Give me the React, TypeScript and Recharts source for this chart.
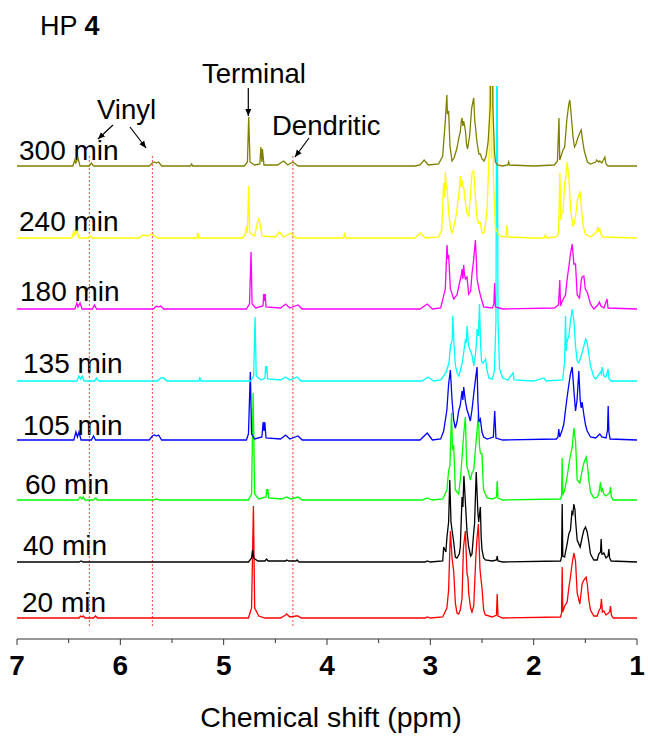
import React from "react";
import { LineChart, Line, XAxis, YAxis, ReferenceLine } from "recharts";

type Pt = [number, number];

// spectra: [ppm, intensity above own baseline]
const s20: Pt[] = [[7,0],[6.40,0],[6.385,2],[6.37,1],[6.36,2],[6.34,0],[6.26,0],[6.24,2],[6.22,0],[4.76,0],[4.73,10],[4.712,112],[4.70,10],[4.66,2],[4.60,0],[4.45,0],[4.40,3],[4.39,4],[4.36,1],[4.30,2],[4.28,2],[4.25,0],[3.05,0],[3.03,1],[3.0,0],[2.88,1],[2.84,10],[2.823,28],[2.806,87],[2.79,60],[2.774,47],[2.758,15],[2.742,5],[2.726,4],[2.71,8],[2.693,20],[2.68,70],[2.661,87],[2.645,44],[2.635,40],[2.629,25],[2.61,10],[2.597,6],[2.58,12],[2.56,60],[2.548,80],[2.535,94],[2.52,50],[2.516,45],[2.50,30],[2.484,8],[2.468,3],[2.40,1],[2.36,3],[2.353,24],[2.345,2],[2.30,0],[1.74,1],[1.73,5],[1.724,51],[1.718,6],[1.70,12],[1.676,16],[1.66,30],[1.644,41],[1.627,55],[1.611,65],[1.595,57],[1.579,25],[1.553,14],[1.531,34],[1.514,38],[1.492,41],[1.48,33],[1.466,18],[1.45,8],[1.418,2],[1.385,2],[1.37,7],[1.353,10],[1.344,19],[1.335,6],[1.321,7],[1.30,3],[1.265,6],[1.256,12],[1.248,3],[1.23,0],[1.0,0]];
const s40: Pt[] = [[7,0],[6.40,0],[6.38,1],[6.36,0],[4.76,0],[4.73,4],[4.72,12],[4.71,4],[4.67,1],[4.60,1],[4.585,3],[4.57,1],[4.40,1],[4.39,2],[4.37,1],[4.30,1],[4.29,2],[4.27,0],[3.05,0],[3.03,1],[3.0,0],[2.88,1],[2.871,15],[2.85,10],[2.839,25],[2.823,40],[2.812,82],[2.80,40],[2.79,32],[2.774,20],[2.758,5],[2.742,4],[2.72,8],[2.71,15],[2.693,65],[2.685,55],[2.675,86],[2.661,60],[2.645,30],[2.629,15],[2.61,6],[2.597,8],[2.58,30],[2.572,38],[2.556,90],[2.548,70],[2.54,50],[2.532,40],[2.516,55],[2.508,25],[2.50,12],[2.484,4],[2.468,2],[2.40,1],[2.36,2],[2.353,6],[2.345,1],[2.30,0],[1.74,1],[1.73,5],[1.724,58],[1.718,6],[1.70,5],[1.692,10],[1.676,18],[1.66,28],[1.644,32],[1.63,50],[1.621,48],[1.611,58],[1.60,52],[1.595,42],[1.579,22],[1.55,15],[1.53,25],[1.514,32],[1.498,35],[1.482,30],[1.466,20],[1.45,8],[1.418,2],[1.385,2],[1.37,8],[1.353,10],[1.347,23],[1.34,8],[1.33,8],[1.321,9],[1.30,4],[1.28,6],[1.272,13],[1.265,4],[1.25,1],[1.0,0]];
const s60: Pt[] = [[7,0],[6.41,0],[6.39,3],[6.37,1],[6.36,3],[6.34,0],[6.26,0],[6.24,2],[6.22,0],[5.68,0],[5.65,1],[5.62,0],[4.76,0],[4.73,6],[4.715,107],[4.70,6],[4.66,1],[4.59,3],[4.585,11],[4.578,6],[4.572,11],[4.565,2],[4.44,1],[4.39,3],[4.35,1],[4.28,3],[4.24,0],[3.08,0],[3.03,2],[2.98,0],[2.88,1],[2.84,10],[2.823,29],[2.81,35],[2.795,87],[2.785,50],[2.774,55],[2.758,10],[2.726,6],[2.71,20],[2.693,43],[2.685,55],[2.677,66],[2.661,83],[2.65,40],[2.645,33],[2.629,27],[2.613,20],[2.597,27],[2.58,30],[2.564,50],[2.548,69],[2.536,86],[2.525,55],[2.516,47],[2.50,46],[2.49,20],[2.484,10],[2.45,2],[2.40,1],[2.36,3],[2.353,19],[2.345,2],[2.30,0],[1.74,1],[1.73,4],[1.724,42],[1.718,5],[1.70,10],[1.676,23],[1.66,35],[1.644,45],[1.627,53],[1.611,72],[1.60,62],[1.595,60],[1.579,20],[1.553,17],[1.53,30],[1.514,37],[1.492,43],[1.48,35],[1.466,20],[1.45,8],[1.418,2],[1.385,3],[1.37,6],[1.353,18],[1.345,8],[1.337,12],[1.321,6],[1.30,4],[1.265,7],[1.256,13],[1.248,3],[1.23,0],[1.0,0]];
const s105: Pt[] = [[7,0],[6.45,0],[6.43,8],[6.415,3],[6.40,8],[6.38,0],[6.28,0],[6.26,4],[6.24,0],[5.72,0],[5.69,4],[5.67,5],[5.65,4],[5.63,5],[5.60,0],[4.78,0],[4.76,6],[4.742,68],[4.73,6],[4.70,1],[4.63,3],[4.618,18],[4.61,9],[4.602,18],[4.59,2],[4.45,1],[4.40,5],[4.36,1],[4.28,4],[4.24,0],[3.10,0],[3.03,7],[2.98,0],[2.90,1],[2.871,9],[2.84,30],[2.823,56],[2.806,70],[2.79,40],[2.774,20],[2.758,12],[2.742,18],[2.726,29],[2.71,35],[2.693,49],[2.685,40],[2.677,53],[2.661,39],[2.645,30],[2.629,25],[2.613,19],[2.597,30],[2.58,46],[2.564,60],[2.548,73],[2.54,40],[2.53,18],[2.516,21],[2.50,8],[2.484,3],[2.45,1],[2.39,3],[2.377,29],[2.365,2],[2.30,0],[1.78,1],[1.765,3],[1.757,11],[1.748,3],[1.724,10],[1.708,16],[1.692,30],[1.676,43],[1.66,55],[1.644,66],[1.627,73],[1.611,50],[1.595,29],[1.58,40],[1.563,69],[1.55,40],[1.54,32],[1.531,38],[1.514,25],[1.498,15],[1.482,9],[1.45,3],[1.40,2],[1.37,5],[1.36,6],[1.34,3],[1.30,2],[1.285,10],[1.279,34],[1.272,8],[1.26,1],[1.0,0]];
const s135: Pt[] = [[7,0],[6.42,0],[6.40,5],[6.385,2],[6.37,5],[6.35,0],[6.25,0],[6.23,3],[6.21,0],[5.64,0],[5.61,3],[5.58,3],[5.55,0],[5.24,0],[5.23,3],[5.22,0],[4.74,0],[4.71,5],[4.696,64],[4.685,5],[4.64,1],[4.60,3],[4.594,15],[4.588,8],[4.582,15],[4.575,2],[4.45,1],[4.40,4],[4.36,1],[4.29,4],[4.25,0],[3.08,0],[3.02,4],[2.97,0],[2.90,1],[2.85,8],[2.82,18],[2.805,35],[2.79,40],[2.782,65],[2.77,35],[2.757,15],[2.74,8],[2.724,5],[2.71,10],[2.692,18],[2.675,30],[2.66,42],[2.652,38],[2.644,55],[2.63,35],[2.611,30],[2.595,25],[2.579,15],[2.56,30],[2.547,52],[2.535,45],[2.524,77],[2.515,40],[2.505,20],[2.49,18],[2.466,22],[2.45,10],[2.434,3],[2.40,2],[2.38,10],[2.365,60],[2.355,400],[2.345,60],[2.33,12],[2.30,3],[2.25,1],[2.20,8],[2.19,1],[2.0,0],[1.90,3],[1.88,0],[1.72,1],[1.70,20],[1.692,65],[1.685,30],[1.676,40],[1.66,45],[1.644,60],[1.627,72],[1.611,60],[1.595,35],[1.579,20],[1.563,18],[1.54,25],[1.514,35],[1.498,42],[1.482,38],[1.45,15],[1.418,4],[1.40,2],[1.37,6],[1.353,9],[1.345,7],[1.337,14],[1.32,5],[1.30,4],[1.28,12],[1.27,2],[1.25,0],[1.0,0]];
const s180: Pt[] = [[7,0],[6.44,0],[6.42,6],[6.41,2],[6.39,6],[6.37,0],[6.27,0],[6.25,4],[6.23,0],[5.68,0],[5.65,3],[5.63,2],[5.61,3],[5.58,0],[4.78,0],[4.75,5],[4.735,57],[4.725,5],[4.69,1],[4.62,3],[4.612,15],[4.605,8],[4.598,15],[4.59,2],[4.45,1],[4.40,5],[4.36,1],[4.28,4],[4.24,0],[3.10,0],[3.03,5],[2.98,0],[2.90,1],[2.855,20],[2.839,64],[2.83,50],[2.823,54],[2.806,20],[2.774,10],[2.742,14],[2.72,25],[2.70,34],[2.693,40],[2.685,30],[2.677,44],[2.67,35],[2.661,30],[2.645,32],[2.629,15],[2.61,18],[2.597,35],[2.58,50],[2.564,69],[2.555,50],[2.548,30],[2.53,20],[2.516,14],[2.50,8],[2.484,2],[2.40,1],[2.385,5],[2.378,26],[2.37,2],[2.30,0],[1.80,1],[1.76,4],[1.747,29],[1.74,3],[1.724,8],[1.692,14],[1.676,30],[1.66,42],[1.644,55],[1.627,65],[1.611,45],[1.595,45],[1.579,14],[1.556,11],[1.54,28],[1.531,32],[1.514,33],[1.50,20],[1.482,17],[1.45,5],[1.418,0],[1.38,4],[1.363,7],[1.35,3],[1.32,1],[1.29,10],[1.28,1],[1.0,0]];
const s240: Pt[] = [[7,0],[6.47,0],[6.45,7],[6.44,3],[6.42,7],[6.40,0],[6.31,0],[6.29,2],[6.27,0],[5.82,0],[5.78,3],[5.73,2],[5.70,4],[5.68,3],[5.64,0],[5.26,0],[5.25,5],[5.24,0],[4.82,0],[4.79,4],[4.78,12],[4.77,5],[4.758,52],[4.748,5],[4.70,2],[4.67,17],[4.66,19],[4.65,16],[4.63,2],[4.50,1],[4.46,6],[4.42,1],[4.35,5],[4.30,0],[3.84,0],[3.83,4],[3.82,0],[3.15,0],[3.095,5],[3.05,0],[2.92,1],[2.89,8],[2.871,55],[2.86,40],[2.855,66],[2.845,48],[2.839,52],[2.823,25],[2.80,8],[2.79,5],[2.774,10],[2.758,18],[2.74,30],[2.72,48],[2.71,62],[2.70,50],[2.693,58],[2.685,52],[2.677,50],[2.661,35],[2.645,25],[2.629,22],[2.61,45],[2.597,65],[2.58,67],[2.57,50],[2.55,20],[2.532,15],[2.516,15],[2.50,5],[2.484,5],[2.468,12],[2.45,30],[2.43,90],[2.418,400],[2.41,80],[2.40,400],[2.39,60],[2.37,10],[2.33,2],[2.27,1],[2.258,13],[2.25,1],[2.0,0],[1.90,0],[1.886,3],[1.87,0],[1.78,1],[1.76,4],[1.746,65],[1.738,18],[1.730,24],[1.716,25],[1.70,55],[1.69,60],[1.676,76],[1.66,62],[1.644,30],[1.62,12],[1.611,13],[1.59,25],[1.579,37],[1.56,44],[1.55,46],[1.54,32],[1.52,12],[1.50,4],[1.45,1],[1.40,5],[1.385,8],[1.379,10],[1.37,7],[1.36,9],[1.35,4],[1.33,1],[1.0,0]];
const s300: Pt[] = [[7,0],[6.46,0],[6.44,6],[6.43,3],[6.41,8],[6.39,0],[6.30,0],[6.28,3],[6.26,0],[5.72,0],[5.69,3],[5.67,4],[5.65,3],[5.63,4],[5.60,0],[5.32,0],[5.31,2],[5.30,0],[4.80,0],[4.77,4],[4.758,49],[4.745,4],[4.70,1],[4.65,2],[4.64,19],[4.63,4],[4.625,17],[4.61,1],[4.48,1],[4.42,5],[4.38,1],[4.33,4],[4.28,0],[3.15,0],[3.10,1],[3.06,6],[3.02,1],[2.92,2],[2.88,10],[2.87,25],[2.855,45],[2.84,71],[2.835,52],[2.823,55],[2.81,20],[2.79,5],[2.77,8],[2.742,18],[2.73,25],[2.72,30],[2.71,34],[2.70,45],[2.693,48],[2.685,40],[2.677,45],[2.66,35],[2.65,22],[2.64,17],[2.62,30],[2.60,58],[2.58,68],[2.57,45],[2.564,40],[2.55,25],[2.53,12],[2.516,12],[2.50,7],[2.48,5],[2.46,10],[2.44,25],[2.42,60],[2.405,400],[2.395,60],[2.38,15],[2.37,4],[2.35,1],[2.30,0],[2.25,1],[2.242,4],[2.235,1],[2.0,0],[1.80,1],[1.77,5],[1.755,48],[1.748,6],[1.74,8],[1.72,15],[1.70,19],[1.68,45],[1.66,62],[1.65,66],[1.64,55],[1.62,30],[1.605,19],[1.59,22],[1.573,28],[1.55,34],[1.54,36],[1.53,28],[1.51,15],[1.48,4],[1.45,2],[1.40,4],[1.39,6],[1.37,4],[1.36,5],[1.34,3],[1.311,9],[1.30,2],[1.28,0],[1,0]];

const times = ["20 min", "40 min", "60 min", "105 min", "135 min", "180 min", "240 min", "300 min"];
const spectra = [s20, s40, s60, s105, s135, s180, s240, s300];
const colors = ["#ff0000", "#000000", "#00ff00", "#0000ff", "#00ffff", "#ff00ff", "#ffff00", "#808000"];

// vertical stacking of each trace (px above the axis)
const offsets = [21, 77, 139, 199, 258, 330, 401, 473];
const labelPos = [[22, 612], [23, 555], [25, 494], [23, 435], [23, 373], [20, 301], [19, 231], [19, 160]];

const xTicks = [7, 6.5, 6, 5.5, 5, 4.5, 4, 3.5, 3, 2.5, 2, 1.5, 1];
const markerPpm = [6.3, 5.69, 4.33];

const FONT = "'Liberation Sans', Arial, Helvetica, sans-serif";

const series = spectra.map((s, i) => s.map(([x, h]) => ({ x, y: offsets[i] + h })));

function AxisTick({ x, y, payload }: any) {
  const major = Number.isInteger(payload.value);
  return (
    <g>
      <line x1={x} x2={x} y1={y} y2={y + (major ? 6 : 4)} stroke="#333" strokeWidth={1} />
      {major && (
        <text x={x} y={y + 36} textAnchor="middle" fontFamily={FONT} fontWeight="bold" fontSize={28} fill="#000">
          {payload.value}
        </text>
      )}
    </g>
  );
}

export default function App() {
  return (
    <div style={{ position: "absolute", left: 0, top: 0, background: "#fff" }}>
      <LineChart width={648} height={742} margin={{ top: 86, right: 11, bottom: 73, left: 17 }}>
        <defs>
          <marker id="ah" markerWidth="8" markerHeight="8" refX="7" refY="4" orient="auto" markerUnits="userSpaceOnUse">
            <path d="M0,1 L7,4 L0,7 Z" fill="#000" />
          </marker>
        </defs>
        <XAxis
          type="number"
          dataKey="x"
          domain={[1, 7]}
          reversed
          allowDataOverflow
          ticks={xTicks}
          interval={0}
          tickSize={0}
          tickMargin={0}
          tickLine={false}
          tick={<AxisTick />}
          height={30}
          stroke="#333"
        />
        <YAxis hide type="number" domain={[0, 553]} allowDataOverflow width={0} />
        {markerPpm.map((p) => (
          <ReferenceLine
            key={p}
            segment={[{ x: p, y: 13 }, { x: p, y: 484 }]}
            stroke="#ff4040"
            strokeDasharray="2 2"
            strokeWidth={1}
          />
        ))}
        {series.map((d, i) => (
          <Line
            key={times[i]}
            data={d}
            dataKey="y"
            type="linear"
            stroke={colors[i]}
            strokeWidth={1.3}
            dot={false}
            activeDot={false}
            isAnimationActive={false}
          />
        ))}
        <g fontFamily={FONT} fill="#000">
          {times.map((t, i) => (
            <text key={t} x={labelPos[i][0]} y={labelPos[i][1]} fontSize={28}>
              {t}
            </text>
          ))}
          <text x={40} y={35} fontSize={27}>
            HP <tspan fontWeight="bold">4</tspan>
          </text>
          <text x={202} y={83} fontSize={27.5}>Terminal</text>
          <text x={97} y={119} fontSize={27.5}>Vinyl</text>
          <text x={272} y={135} fontSize={27.5}>Dendritic</text>
          <text x={331} y={727} fontSize={28.5} textAnchor="middle">Chemical shift (ppm)</text>
        </g>
        <g stroke="#000" strokeWidth={1.2} fill="none">
          <line x1={248.3} y1={88} x2={248.3} y2={116} markerEnd="url(#ah)" />
          <line x1={113} y1={125} x2={98} y2={139} markerEnd="url(#ah)" />
          <line x1={130} y1={127} x2={146} y2={148} markerEnd="url(#ah)" />
          <line x1={309} y1={138} x2={295} y2={157} markerEnd="url(#ah)" />
        </g>
      </LineChart>
    </div>
  );
}
